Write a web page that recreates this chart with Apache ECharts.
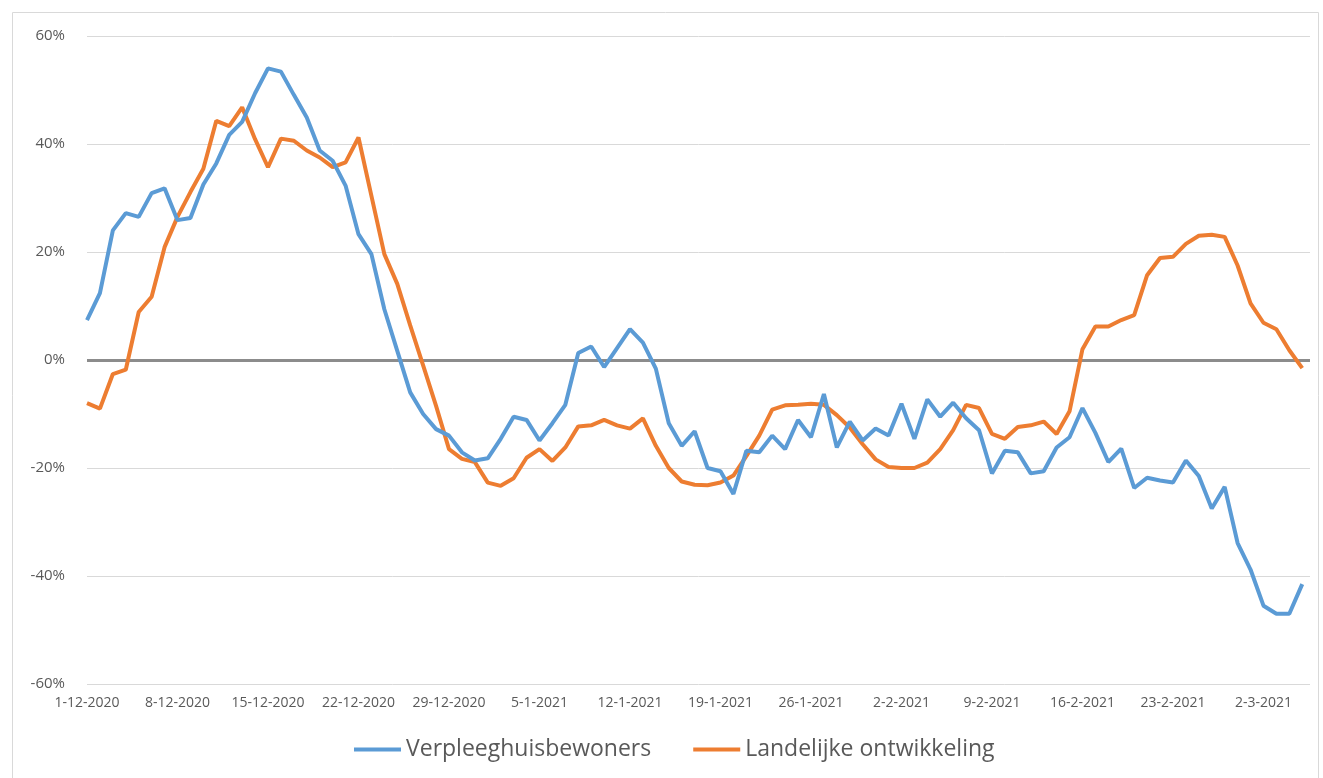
<!DOCTYPE html>
<html>
<head>
<meta charset="utf-8">
<script src="https://cdn.jsdelivr.net/npm/echarts@6/dist/echarts.min.js"></script>
<style>
  html, body { margin: 0; padding: 0; background: #fff; }
  #chart { width: 1323px; height: 778px; }
</style>
</head>
<body>
<div id="chart"></div>
<script>
const dates = [
  '1-12-2020', '2-12-2020', '3-12-2020', '4-12-2020', '5-12-2020', '6-12-2020', '7-12-2020',
  '8-12-2020', '9-12-2020', '10-12-2020', '11-12-2020', '12-12-2020', '13-12-2020', '14-12-2020',
  '15-12-2020', '16-12-2020', '17-12-2020', '18-12-2020', '19-12-2020', '20-12-2020', '21-12-2020',
  '22-12-2020', '23-12-2020', '24-12-2020', '25-12-2020', '26-12-2020', '27-12-2020', '28-12-2020',
  '29-12-2020', '30-12-2020', '31-12-2020', '1-1-2021', '2-1-2021', '3-1-2021', '4-1-2021',
  '5-1-2021', '6-1-2021', '7-1-2021', '8-1-2021', '9-1-2021', '10-1-2021', '11-1-2021',
  '12-1-2021', '13-1-2021', '14-1-2021', '15-1-2021', '16-1-2021', '17-1-2021', '18-1-2021',
  '19-1-2021', '20-1-2021', '21-1-2021', '22-1-2021', '23-1-2021', '24-1-2021', '25-1-2021',
  '26-1-2021', '27-1-2021', '28-1-2021', '29-1-2021', '30-1-2021', '31-1-2021', '1-2-2021',
  '2-2-2021', '3-2-2021', '4-2-2021', '5-2-2021', '6-2-2021', '7-2-2021', '8-2-2021',
  '9-2-2021', '10-2-2021', '11-2-2021', '12-2-2021', '13-2-2021', '14-2-2021', '15-2-2021',
  '16-2-2021', '17-2-2021', '18-2-2021', '19-2-2021', '20-2-2021', '21-2-2021', '22-2-2021',
  '23-2-2021', '24-2-2021', '25-2-2021', '26-2-2021', '27-2-2021', '28-2-2021', '1-3-2021',
  '2-3-2021', '3-3-2021', '4-3-2021', '5-3-2021'
]

// percentages, one per day
const verpleeghuis = [
  7.4, 12.4, 24, 27.2, 26.5, 30.9, 31.8, 25.9, 26.3, 32.5,
  36.4, 41.7, 44.1, 49.4, 54, 53.4, 49.1, 44.9, 38.8, 36.9,
  32.3, 23.3, 19.6, 9.4, 1.7, -6, -10, -12.8, -14, -17.1,
  -18.6, -18.2, -14.6, -10.5, -11.1, -14.9, -11.7, -8.3, 1.3, 2.5,
  -1.3, 2.2, 5.7, 3.2, -1.6, -11.7, -15.9, -13.2, -20, -20.6,
  -24.8, -16.8, -17.1, -14, -16.5, -11.1, -14.3, -6.3, -16.2, -11.4,
  -14.9, -12.7, -14, -8.1, -14.6, -7.3, -10.5, -7.9, -10.8, -13,
  -21, -16.8, -17.1, -21, -20.6, -16.2, -14.3, -8.9, -13.5, -18.9,
  -16.4, -23.7, -21.8, -22.3, -22.7, -18.6, -21.5, -27.5, -23.5, -33.9,
  -38.8, -45.5, -47, -47, -41.5
]
const landelijk = [
  -8, -9, -2.6, -1.8, 8.9, 11.7, 20.9, 26.5, 31.1, 35.4,
  44.3, 43.3, 46.8, 40.9, 35.7, 41, 40.6, 38.8, 37.5, 35.7,
  36.6, 41.2, 30.4, 19.6, 14.1, 6.4, -1, -8.5, -16.5, -18.3,
  -18.9, -22.7, -23.3, -21.9, -18.1, -16.5, -18.7, -16.2, -12.3, -12.1,
  -11.1, -12.1, -12.7, -10.8, -15.9, -20, -22.5, -23.1, -23.2, -22.7,
  -21.4, -17.8, -14, -9.2, -8.4, -8.3, -8.1, -8.3, -10.2, -12.5,
  -15.6, -18.4, -19.8, -20, -20, -19, -16.5, -13, -8.3, -8.9,
  -13.7, -14.6, -12.4, -12.1, -11.4, -13.7, -9.5, 2, 6.2, 6.2,
  7.4, 8.3, 15.7, 18.9, 19.1, 21.5, 23, 23.2, 22.8, 17.5,
  10.5, 6.9, 5.7, 1.8, -1.5
]
const seriesNames = ['Verpleeghuisbewoners', 'Landelijke ontwikkeling']
const yTicks = [-60, -40, -20, 0, 20, 40, 60]

const textColor = '#595959'
const font = 'Open Sans'

const chart = echarts.init(document.getElementById('chart'))
chart.setOption({
  animation: false,
  color: ['#5B9BD5', '#ED7D31'],
  textStyle: { fontFamily: font },
  graphic: [{
    type: 'rect',
    shape: { x: 12.5, y: 12.5, width: 1306, height: 790 },
    style: { fill: 'none', stroke: '#d9d9d9', lineWidth: 1 },
    silent: true
  }],
  grid: {
    left: 87,
    right: 13,
    top: 36,
    bottom: 94
  },
  legend: {
    data: seriesNames,
    left: 349,
    top: 733,
    icon: 'rect',
    itemWidth: 47,
    itemHeight: 4,
    itemGap: 42,
    textStyle: { color: textColor, fontSize: 23, fontFamily: font }
  },
  xAxis: {
    type: 'value',
    min: 0,
    max: 94.6,
    interval: 7,
    axisLine: { show: false },
    axisTick: { show: false },
    splitLine: { show: false },
    axisLabel: {
      color: textColor,
      fontSize: 14,
      margin: 12,
      showMaxLabel: false,
      formatter: function (v) {
        return Number.isInteger(v) ? dates[v] : ''
      }
    }
  },
  yAxis: [{
    type: 'value',
    min: yTicks[0],
    max: yTicks[yTicks.length - 1],
    interval: 20,
    axisLine: { show: false },
    axisTick: { show: false },
    axisLabel: {
      color: textColor,
      fontSize: 15,
      margin: 22,
      formatter: '{value}%'
    },
    splitLine: { lineStyle: { color: '#d9d9d9', width: 1 } }
  }, {
    // only used for the thick zero line
    type: 'value',
    min: -60,
    max: 60,
    interval: 60,
    position: 'left',
    axisLine: { show: false },
    axisTick: { show: false },
    axisLabel: { show: false },
    splitLine: {
      lineStyle: {
        color: ['rgba(0,0,0,0)', '#8c8c8c', 'rgba(0,0,0,0)'],
        width: 3
      }
    }
  }],
  series: [{
    name: seriesNames[0],
    type: 'line',
    data: verpleeghuis.map((v, i) => [i, v]),
    symbol: 'none',
    smooth: false,
    lineStyle: { width: 4 },
    z: 3
  }, {
    name: seriesNames[1],
    type: 'line',
    data: landelijk.map((v, i) => [i, v]),
    symbol: 'none',
    smooth: false,
    lineStyle: { width: 4 },
    z: 2
  }]
})
</script>
</body>
</html>
